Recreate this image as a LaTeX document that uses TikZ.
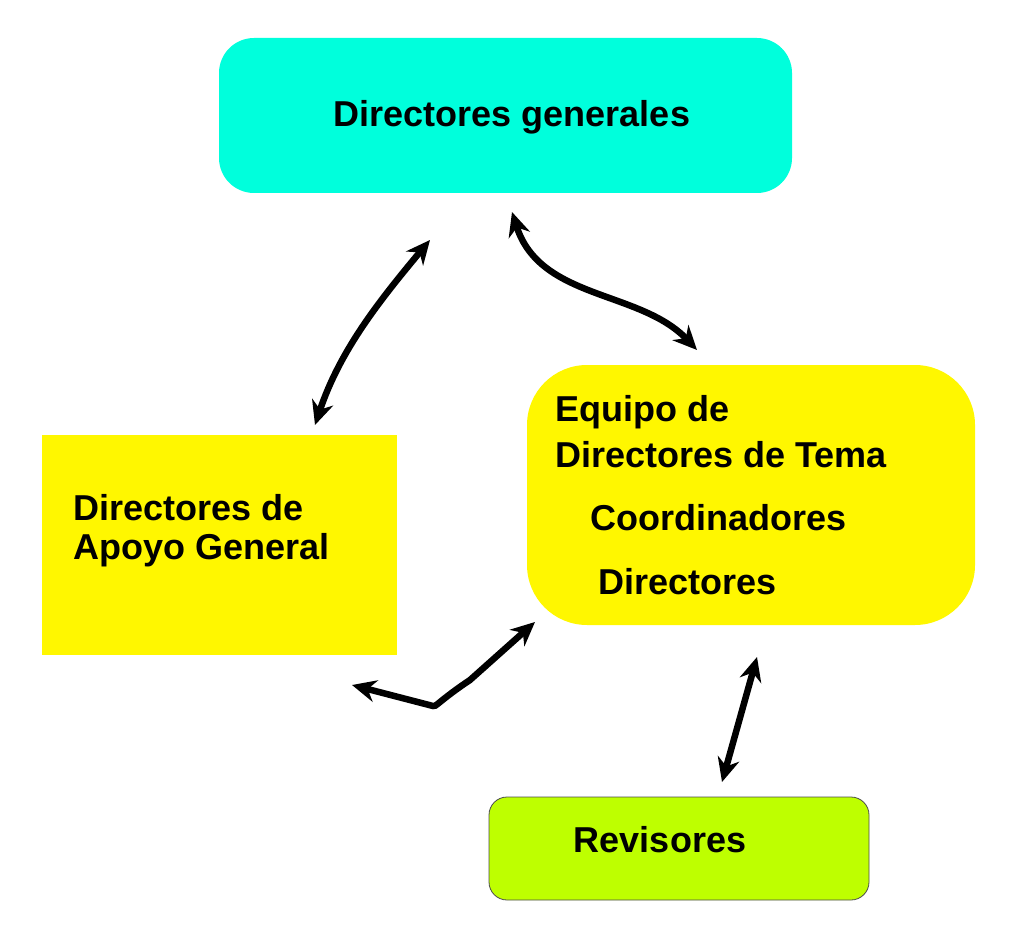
\documentclass[tikz,border=0pt]{standalone}
\usepackage{fontspec}
\setmainfont{Liberation Sans}
\usetikzlibrary{arrows.meta}
\definecolor{cy}{RGB}{0,255,220}
\definecolor{ye}{RGB}{255,247,0}
\definecolor{gr}{RGB}{190,255,0}
\tikzset{lbl/.style={font=\fontsize{36}{40}\selectfont\bfseries,anchor=west,inner sep=0},
 dbl/.style={line width=6.5pt,{Stealth[length=24pt,width=22pt]}-{Stealth[length=24pt,width=22pt]}}}
\begin{document}
\begin{tikzpicture}[x=1pt,y=-1pt]
\useasboundingbox (0,0) rectangle (1024,949);
\path[fill=cy,rounded corners=35pt] (219,38) rectangle (792,193);
\node[lbl,anchor=center] (dg) at (512,117) {Directores generales};
\path[fill=ye] (42,435) rectangle (397,655);
\node[lbl] (a1) at (73,508) {Directores de};
\node[lbl] (a2) at (73,550) {Apoyo General};
\path[fill=ye,rounded corners=60pt] (527,365) rectangle (975,625);
\node[lbl] (e1) at (555,412) {Equipo de};
\node[lbl] (e2) at (555,455) {Directores de Tema};
\node[lbl] (e3) at (590,518) {Coordinadores};
\node[lbl] (e4) at (598,582) {Directores};
\path[fill=gr,draw=black!70,line width=0.8pt,rounded corners=18pt] (489,797) rectangle (869,900);
\node[lbl,anchor=center] (rv) at (660,840) {Revisores};
\coordinate (p1a) at (430,240); \coordinate (p1b) at (315,425);
\coordinate (p2a) at (512,212); \coordinate (p2b) at (697,350);
\coordinate (p3a) at (535,622); \coordinate (p3b) at (352,685); \coordinate (p3m) at (433,706);
\coordinate (p4a) at (757,657); \coordinate (p4b) at (722,782);
\draw[dbl] (p1a) .. controls (380,300) and (340,350) .. (p1b);
\draw[dbl] (p2a) .. controls (540,300) and (640,290) .. (p2b);
\draw[dbl] (p3a) -- (470,680) .. controls (440,700) and (435,708) .. (p3m) -- (p3b);
\draw[dbl] (p4a) -- (p4b);
\end{tikzpicture}
\end{document}
